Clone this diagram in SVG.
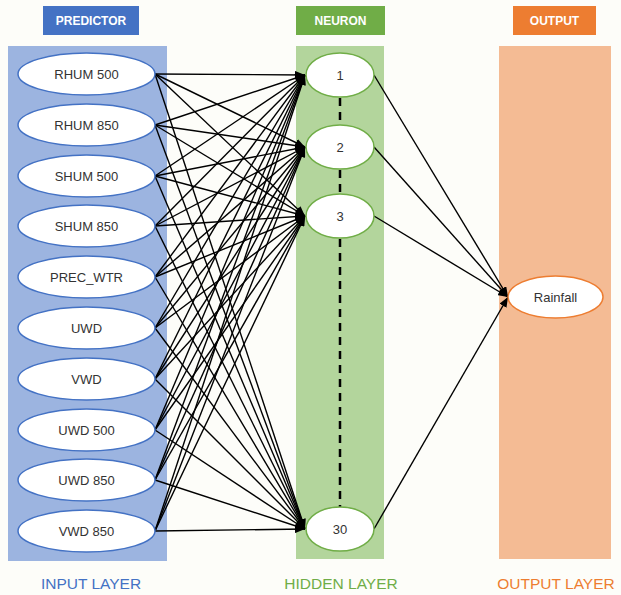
<svg xmlns="http://www.w3.org/2000/svg" width="621" height="595" viewBox="0 0 621 595">
<defs>
<marker id="ah" markerUnits="userSpaceOnUse" markerWidth="10" markerHeight="8" refX="10" refY="4" orient="auto">
<path d="M0,0 L10,4 L0,8 Z" fill="#000"/>
</marker>
<style>
.hdr{font-family:"Liberation Sans",Arial,sans-serif;font-size:12px;font-weight:bold;fill:#fff;text-anchor:middle}
.lbl{font-family:"Liberation Sans",Arial,sans-serif;font-size:13px;fill:#333;text-anchor:middle;dominant-baseline:central}
.foot{font-family:"Liberation Sans",Arial,sans-serif;font-size:15.5px;text-anchor:middle}
.inp{fill:#fff;stroke:#4472c4;stroke-width:1.5}
.hid{fill:#fff;stroke:#70ad47;stroke-width:1.5}
.out{fill:#fff;stroke:#ed7d31;stroke-width:1.5}
#edges line{stroke:#000;stroke-width:1.4;marker-end:url(#ah)}
</style>
</defs>
<rect width="621" height="595" fill="#fdfdf9"/>
<g id="hdr-predictor"><rect x="43" y="6" width="96" height="29" fill="#4472c4"/><text class="hdr" x="91" y="25">PREDICTOR</text></g>
<g id="hdr-neuron"><rect x="296" y="6" width="89" height="29" fill="#70ad47"/><text class="hdr" x="340.5" y="25">NEURON</text></g>
<g id="hdr-output"><rect x="513" y="6" width="83" height="29" fill="#ed7d31"/><text class="hdr" x="554.5" y="25">OUTPUT</text></g>
<rect id="panel-input" x="8" y="46" width="159" height="515" fill="#9cb4e0"/>
<rect id="panel-hidden" x="296" y="46" width="88" height="513" fill="#b3d59c"/>
<rect id="panel-output" x="499" y="46" width="112" height="513" fill="#f4bb94"/>
<g id="dashes" stroke="#000" stroke-width="2.5" stroke-dasharray="8,6">
<line x1="340" y1="98" x2="340" y2="125"/>
<line x1="340" y1="170" x2="340" y2="194"/>
<line x1="340" y1="239" x2="340" y2="507"/>
</g>
<g id="edges">
<line x1="155" y1="74" x2="305" y2="75"/><line x1="155" y1="74" x2="305" y2="147"/><line x1="155" y1="74" x2="305" y2="216"/><line x1="155" y1="74" x2="305" y2="529"/>
<line x1="155" y1="125" x2="305" y2="75"/><line x1="155" y1="125" x2="305" y2="147"/><line x1="155" y1="125" x2="305" y2="216"/><line x1="155" y1="125" x2="305" y2="529"/>
<line x1="155" y1="176" x2="305" y2="75"/><line x1="155" y1="176" x2="305" y2="147"/><line x1="155" y1="176" x2="305" y2="216"/><line x1="155" y1="176" x2="305" y2="529"/>
<line x1="155" y1="226" x2="305" y2="75"/><line x1="155" y1="226" x2="305" y2="147"/><line x1="155" y1="226" x2="305" y2="216"/><line x1="155" y1="226" x2="305" y2="529"/>
<line x1="155" y1="277" x2="305" y2="75"/><line x1="155" y1="277" x2="305" y2="147"/><line x1="155" y1="277" x2="305" y2="216"/><line x1="155" y1="277" x2="305" y2="529"/>
<line x1="155" y1="328" x2="305" y2="75"/><line x1="155" y1="328" x2="305" y2="147"/><line x1="155" y1="328" x2="305" y2="216"/><line x1="155" y1="328" x2="305" y2="529"/>
<line x1="155" y1="379" x2="305" y2="75"/><line x1="155" y1="379" x2="305" y2="147"/><line x1="155" y1="379" x2="305" y2="216"/><line x1="155" y1="379" x2="305" y2="529"/>
<line x1="155" y1="430" x2="305" y2="75"/><line x1="155" y1="430" x2="305" y2="147"/><line x1="155" y1="430" x2="305" y2="216"/><line x1="155" y1="430" x2="305" y2="529"/>
<line x1="155" y1="480" x2="305" y2="75"/><line x1="155" y1="480" x2="305" y2="147"/><line x1="155" y1="480" x2="305" y2="216"/><line x1="155" y1="480" x2="305" y2="529"/>
<line x1="155" y1="531" x2="305" y2="75"/><line x1="155" y1="531" x2="305" y2="147"/><line x1="155" y1="531" x2="305" y2="216"/><line x1="155" y1="531" x2="305" y2="529"/>
<line x1="374" y1="75" x2="508" y2="297"/><line x1="374" y1="147" x2="508" y2="297"/><line x1="374" y1="216" x2="508" y2="297"/><line x1="374" y1="529" x2="508" y2="297"/>
</g>
<g id="in-rhum500"><ellipse class="inp" cx="86.5" cy="74" rx="68.5" ry="21"/><text class="lbl" x="86.5" y="74">RHUM 500</text></g>
<g id="in-rhum850"><ellipse class="inp" cx="86.5" cy="125" rx="68.5" ry="21"/><text class="lbl" x="86.5" y="125">RHUM 850</text></g>
<g id="in-shum500"><ellipse class="inp" cx="86.5" cy="176" rx="68.5" ry="21"/><text class="lbl" x="86.5" y="176">SHUM 500</text></g>
<g id="in-shum850"><ellipse class="inp" cx="86.5" cy="226" rx="68.5" ry="21"/><text class="lbl" x="86.5" y="226">SHUM 850</text></g>
<g id="in-precwtr"><ellipse class="inp" cx="86.5" cy="277" rx="68.5" ry="21"/><text class="lbl" x="86.5" y="277">PREC_WTR</text></g>
<g id="in-uwd"><ellipse class="inp" cx="86.5" cy="328" rx="68.5" ry="21"/><text class="lbl" x="86.5" y="328">UWD</text></g>
<g id="in-vwd"><ellipse class="inp" cx="86.5" cy="379" rx="68.5" ry="21"/><text class="lbl" x="86.5" y="379">VWD</text></g>
<g id="in-uwd500"><ellipse class="inp" cx="86.5" cy="430" rx="68.5" ry="21"/><text class="lbl" x="86.5" y="430">UWD 500</text></g>
<g id="in-uwd850"><ellipse class="inp" cx="86.5" cy="480" rx="68.5" ry="21"/><text class="lbl" x="86.5" y="480">UWD 850</text></g>
<g id="in-vwd850"><ellipse class="inp" cx="86.5" cy="531" rx="68.5" ry="21"/><text class="lbl" x="86.5" y="531">VWD 850</text></g>
<g id="h1"><ellipse class="hid" cx="340" cy="75" rx="34" ry="22"/><text class="lbl" x="340" y="75">1</text></g>
<g id="h2"><ellipse class="hid" cx="340" cy="147" rx="34" ry="22"/><text class="lbl" x="340" y="147">2</text></g>
<g id="h3"><ellipse class="hid" cx="340" cy="216" rx="34" ry="22"/><text class="lbl" x="340" y="216">3</text></g>
<g id="h30"><ellipse class="hid" cx="340" cy="529" rx="34" ry="22"/><text class="lbl" x="340" y="529">30</text></g>
<g id="out-rainfall"><ellipse class="out" cx="555.5" cy="297" rx="47.5" ry="21"/><text class="lbl" x="555.5" y="297">Rainfall</text></g>
<text class="foot" x="91" y="589" fill="#4472c4">INPUT LAYER</text>
<text class="foot" x="341" y="589" fill="#70ad47">HIDDEN LAYER</text>
<text class="foot" x="556" y="589" fill="#ed7d31">OUTPUT LAYER</text>
</svg>
